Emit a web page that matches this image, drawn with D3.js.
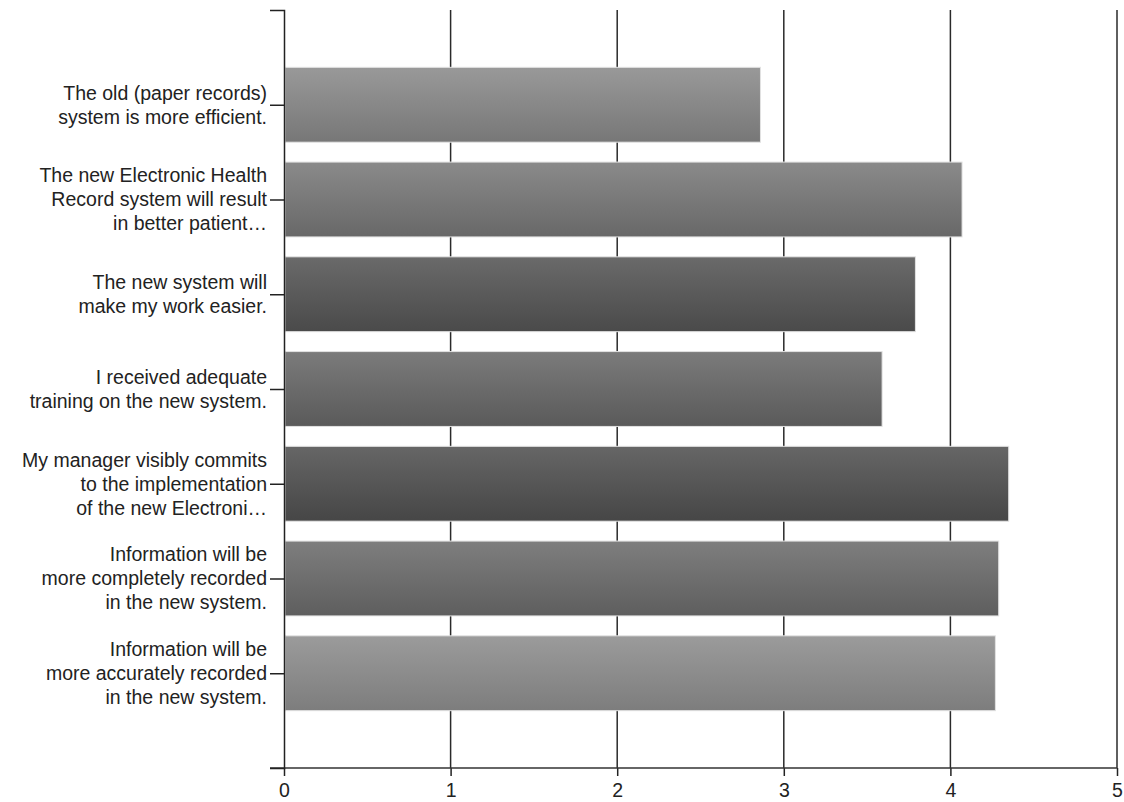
<!DOCTYPE html>
<html>
<head>
<meta charset="utf-8">
<script src="https://cdn.jsdelivr.net/npm/d3@7"></script>
<style>
  html, body { margin: 0; padding: 0; background: #fff; }
  svg text { font-family: "Liberation Sans", Arial, sans-serif; fill: #222; }
</style>
</head>
<body>
<svg id="chart" width="1124" height="802"></svg>
<script>
// Survey statements (each entry is the wrapped lines of its label)
const statements = [
  ["The old (paper records)", "system is more efficient."],
  ["The new Electronic Health", "Record system will result", "in better patient\u2026"],
  ["The new system will", "make my work easier."],
  ["I received adequate", "training on the new system."],
  ["My manager visibly commits", "to the implementation", "of the new Electroni\u2026"],
  ["Information will be", "more completely recorded", "in the new system."],
  ["Information will be", "more accurately recorded", "in the new system."]
];
// Mean agreement score per statement
const scores = [2.86, 4.07, 3.79, 3.59, 4.35, 4.29, 4.27];
// Gradient shades (top, bottom) per bar
const shadeTop    = ["#999999", "#8a8a8a", "#6a6a6a", "#7b7b7b", "#666666", "#7e7e7e", "#9b9b9b"];
const shadeBottom = ["#777777", "#686868", "#4a4a4a", "#5a5a5a", "#464646", "#5e5e5e", "#7d7d7d"];
const xTicks = [0, 1, 2, 3, 4, 5];

const svg = d3.select("#chart");
const plotLeft = 284, plotRight = 1117, plotTop = 10, plotBottom = 768;

const x = d3.scaleLinear().domain([0, 5]).range([plotLeft, plotRight]);
const ids = statements.map((d, i) => i);
const y = d3.scalePoint().domain(ids).range([plotTop, plotBottom]).padding(1);
const barH = y.step() * 0.79;

// gradients
const defs = svg.append("defs");
ids.forEach(i => {
  const g = defs.append("linearGradient")
    .attr("id", "grad" + i).attr("x1", 0).attr("y1", 0).attr("x2", 0).attr("y2", 1);
  g.append("stop").attr("offset", "0%").attr("stop-color", shadeTop[i]);
  g.append("stop").attr("offset", "100%").attr("stop-color", shadeBottom[i]);
});

// vertical grid lines
svg.append("g").selectAll("line")
  .data(xTicks.filter(t => t > 0))
  .join("line")
  .attr("x1", d => x(d)).attr("x2", d => x(d))
  .attr("y1", plotTop).attr("y2", plotBottom)
  .attr("stroke", "#2a2a2a").attr("stroke-width", 1.5);

// bars
svg.append("g").selectAll("rect")
  .data(ids)
  .join("rect")
  .attr("x", x(0) + 1)
  .attr("y", i => y(i) - barH / 2)
  .attr("width", i => x(scores[i]) - x(0) - 1)
  .attr("height", barH)
  .attr("fill", i => `url(#grad${i})`)
  .attr("stroke", "#e2e2e2").attr("stroke-width", 1);

// x axis
const xAxis = d3.axisBottom(x).tickValues(xTicks).tickFormat(d3.format("d"))
  .tickSize(8).tickSizeOuter(0).tickPadding(7);
const gx = svg.append("g").attr("transform", `translate(0,${plotBottom})`).call(xAxis);
gx.select(".domain").remove();
gx.append("line").attr("x1", plotLeft - 14).attr("x2", plotRight).attr("y1", 0).attr("y2", 0)
  .attr("stroke", "#333").attr("stroke-width", 1.5);
gx.selectAll(".tick line").attr("stroke", "#222").attr("stroke-width", 1.5);
gx.selectAll(".tick text").attr("font-size", 19.5).attr("fill", "#333")
  .style("font-family", "Liberation Sans, Arial, sans-serif");

// y axis
const yAxis = d3.axisLeft(y).tickSize(14).tickSizeOuter(14).tickFormat(() => "");
const gy = svg.append("g").attr("transform", `translate(${plotLeft},0)`).call(yAxis);
gy.select(".domain").attr("stroke", "#222").attr("stroke-width", 1.5);
gy.selectAll(".tick line").attr("stroke", "#222").attr("stroke-width", 1.5);

// wrapped category labels
const lineH = 24;
const labels = svg.append("g").selectAll("text")
  .data(ids)
  .join("text")
  .attr("text-anchor", "end")
  .attr("font-size", 19.5)
  .attr("x", plotLeft - 17)
  .attr("y", i => y(i));
labels.each(function(i) {
  const lines = statements[i];
  const t = d3.select(this);
  lines.forEach((ln, k) => {
    t.append("tspan")
      .attr("x", plotLeft - 17)
      .attr("y", y(i) + (k - (lines.length - 1) / 2) * lineH)
      .attr("dy", "0.35em")
      .text(ln);
  });
});
</script>
</body>
</html>
